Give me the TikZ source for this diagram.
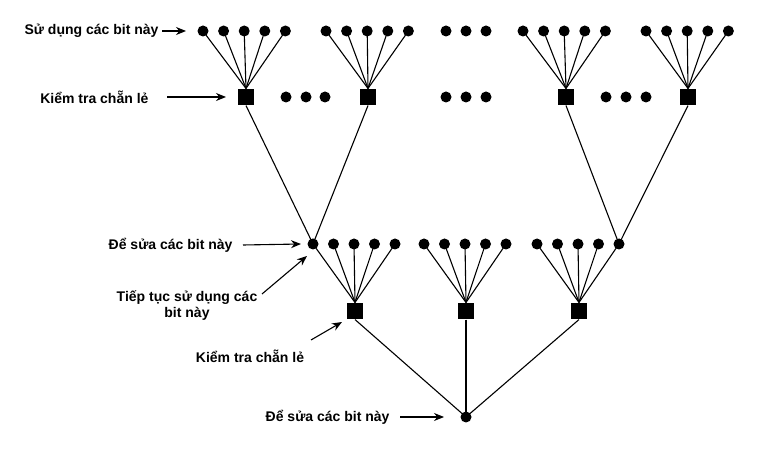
\documentclass[tikz,border=0pt]{standalone}
\usepackage{fontspec}
\setmainfont{Liberation Sans}
\usetikzlibrary{arrows.meta,positioning}

\begin{document}
\begin{tikzpicture}[x=1pt, y=-1pt, line width=1.1pt, >={Stealth[length=10pt,width=8pt]},
  bit/.style={circle, fill, inner sep=0pt, minimum size=11pt},
  parity/.style={fill, inner sep=0pt, minimum size=16pt},
  lbl/.style={font=\bfseries\fontsize{14}{16}\selectfont, align=center, inner sep=1pt}]
\useasboundingbox (0,0) rectangle (761,454);

% top row of bits and the parity checks above
\foreach \g/\xs/\xp in {a/203/246, b/326/368, c/523/566, d/646/688} {
  \node[parity] (p\g) at (\xp,97) {};
  \foreach \i in {1,...,5} {
    \node[bit] (t\g\i) at ({\xs+(\i-1)*20.6},31) {};
    \draw (t\g\i.center) -- (p\g.north);
  }
}
\node[bit] (e1) at (446,31) {};
\node[bit] (e2) at (466,31) {};
\node[bit] (e3) at (486,31) {};
\node[bit] (e4) at (286,97) {};
\node[bit] (e5) at (306,97) {};
\node[bit] (e6) at (325,97) {};
\node[bit] (e7) at (446,97) {};
\node[bit] (e8) at (466,97) {};
\node[bit] (e9) at (486,97) {};
\node[bit] (e10) at (606,97) {};
\node[bit] (e11) at (626,97) {};
\node[bit] (e12) at (646,97) {};

% middle row and second level checks
\foreach \g/\xs/\xp in {a/313/355, b/424/466, c/537/579} {
  \node[parity] (q\g) at (\xp,311) {};
  \foreach \i in {1,...,5} {
    \node[bit] (m\g\i) at ({\xs+(\i-1)*20.5},244) {};
    \draw (m\g\i.center) -- (q\g.north);
  }
}
\node[bit] (n0) at (466,417) {};

\draw (pa.south) -- (ma1.center);
\draw (pb.south) -- (ma1.center);
\draw (pc.south) -- (mc5.center);
\draw (pd.south) -- (mc5.center);
\foreach \g in {a,b,c}
  \draw (q\g.south) -- (n0.center);

% labels
\node[lbl, anchor=east] (use1) at (160,31) {Sử dụng các bit này};
\node[lbl, anchor=east] (chk1) at (150,97) {Kiểm tra chẵn lẻ};
\node[lbl, anchor=east] (fix1) at (234,245) {Để sửa các bit này};
\node[lbl] (use2) at (187,306) {Tiếp tục sử dụng các\\bit này};
\node[lbl] (chk2) at (250,356) {Kiểm tra chẵn lẻ};
\node[lbl, anchor=east] (fix2) at (391,417) {Để sửa các bit này};

\coordinate (use1e) at (186,31);
\coordinate (chk1e) at (226,97);
\coordinate (fix1e) at (301,244);
\coordinate (use2e) at (307,256);
\coordinate (chk2e) at (342,322);
\coordinate (fix2e) at (444,417);
\coordinate (use2s) at (262,294);
\coordinate (chk2s) at (311,340);

\draw[->] ([xshift=2pt]use1.east) -- (use1e);
\draw[->] ([xshift=17pt]chk1.east) -- (chk1e);
\draw[->] ([xshift=9pt]fix1.east) -- (fix1e);
\draw[->] (use2s) -- (use2e);
\draw[->] (chk2s) -- (chk2e);
\draw[->] ([xshift=9pt]fix2.east) -- (fix2e);
\end{tikzpicture}
\end{document}
